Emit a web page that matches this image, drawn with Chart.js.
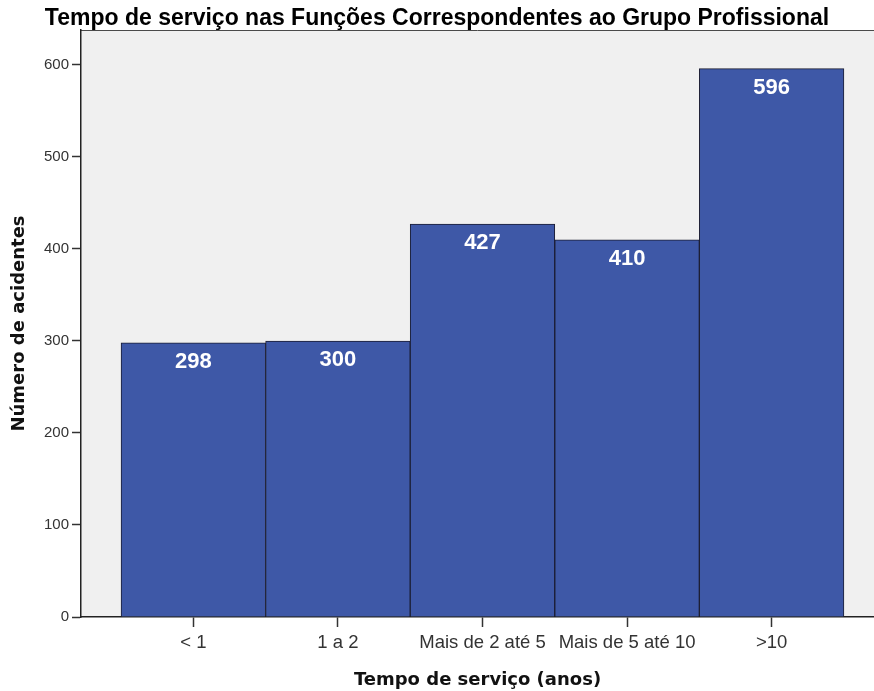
<!DOCTYPE html>
<html>
<head>
<meta charset="utf-8">
<script src="https://cdn.jsdelivr.net/npm/chart.js@4/dist/chart.umd.min.js"></script>
<style>
  html, body { margin: 0; padding: 0; background: #fff; overflow: hidden; }
  #wrap { width: 874px; height: 691px; }
</style>
</head>
<body>
<div id="wrap"><canvas id="grafico" width="874" height="691"></canvas></div>
<script>
// ── Dados ─────────────────────────────────────────────────────────────────────
const CATEGORIAS = ['< 1', '1 a 2', 'Mais de 2 até 5', 'Mais de 5 até 10', '>10'];
const ACIDENTES  = [298, 300, 427, 410, 596];
const Y_TICKS    = [0, 100, 200, 300, 400, 500, 600];

const AZUL  = '#3e58a7';
const BORDA = '#1b1d33';

// ── Plugins ───────────────────────────────────────────────────────────────────
const fundo = {
  id: 'fundo',
  beforeDraw(chart) {
    const { ctx, chartArea: a } = chart;
    ctx.save();
    ctx.fillStyle = '#f0f0f0';
    ctx.fillRect(a.left, a.top, a.right - a.left, a.bottom - a.top);
    ctx.strokeStyle = '#4a4a4a';
    ctx.lineWidth = 1;
    ctx.beginPath();
    ctx.moveTo(a.left, a.top + 0.5);
    ctx.lineTo(a.right, a.top + 0.5);
    ctx.stroke();
    ctx.restore();
  },
};

const rotulos = {
  id: 'rotulos',
  afterDatasetsDraw(chart) {
    const { ctx } = chart;
    const meta = chart.getDatasetMeta(0);
    ctx.save();
    ctx.fillStyle = '#ffffff';
    ctx.font = 'bold 22px "Liberation Sans", Arial, sans-serif';
    ctx.textAlign = 'center';
    ctx.textBaseline = 'middle';
    meta.data.forEach((bar, i) => {
      ctx.fillText(String(ACIDENTES[i]), bar.x, bar.y + 19);
    });
    ctx.restore();
  },
};

// ── Gráfico ───────────────────────────────────────────────────────────────────
new Chart(document.getElementById('grafico'), {
  type: 'bar',
  data: {
    datasets: [{
      data: ACIDENTES.map((v, i) => ({ x: i, y: v })),
      backgroundColor: AZUL,
      borderColor: BORDA,
      borderWidth: 1,
      borderSkipped: 'bottom',
      barPercentage: 1,
      categoryPercentage: 1,
    }],
  },
  options: {
    responsive: false,
    animation: false,
    layout: { padding: { left: 0, right: 0, top: 0, bottom: 0 } },
    plugins: {
      legend: { display: false },
      tooltip: { enabled: false },
      title: {
        display: true,
        text: 'Tempo de serviço nas Funções Correspondentes ao Grupo Profissional',
        color: '#000',
        font: { family: '"Liberation Sans", Arial, sans-serif', size: 23, weight: 'bold', lineHeight: 1.0 },
        padding: { top: 7, bottom: 0 },
      },
    },
    scales: {
      x: {
        type: 'linear',
        min: -0.777,
        max: 4.708,
        offset: false,
        afterBuildTicks: axis => { axis.ticks = CATEGORIAS.map((_, i) => ({ value: i })); },
        afterFit: axis => { axis.height = 74; },
        ticks: {
          callback: v => CATEGORIAS[v],
          color: '#333',
          font: { family: '"Liberation Sans", Arial, sans-serif', size: 18.5 },
          padding: 5,
          maxRotation: 0,
          autoSkip: false,
        },
        grid: { offset: false, drawOnChartArea: false, drawTicks: true, tickLength: 10, color: '#333', tickWidth: 1.5 },
        border: { display: true, color: '#222', width: 1.5 },
        title: {
          display: true,
          text: 'Tempo de serviço (anos)',
          color: '#111',
          font: { family: '"DejaVu Sans", sans-serif', size: 18, weight: 'bold', lineHeight: 1.2 },
          padding: { top: 0, bottom: 0 },
        },
      },
      y: {
        min: 0,
        max: 638,
        afterBuildTicks: axis => { axis.ticks = Y_TICKS.map(v => ({ value: v })); },
        afterFit: axis => { axis.width = 81; },
        ticks: {
          color: '#333',
          font: { family: '"Liberation Sans", Arial, sans-serif', size: 15 },
          padding: 3,
        },
        grid: { drawOnChartArea: false, drawTicks: true, tickLength: 9, color: '#333', tickWidth: 1.5 },
        border: { display: true, color: '#222', width: 1.5 },
        title: {
          display: true,
          text: 'Número de acidentes',
          color: '#111',
          font: { family: '"DejaVu Sans", sans-serif', size: 18, weight: 'bold', lineHeight: 1.2 },
          padding: { top: 9, bottom: 0 },
        },
      },
    },
  },
  plugins: [fundo, rotulos],
});
</script>
</body>
</html>
